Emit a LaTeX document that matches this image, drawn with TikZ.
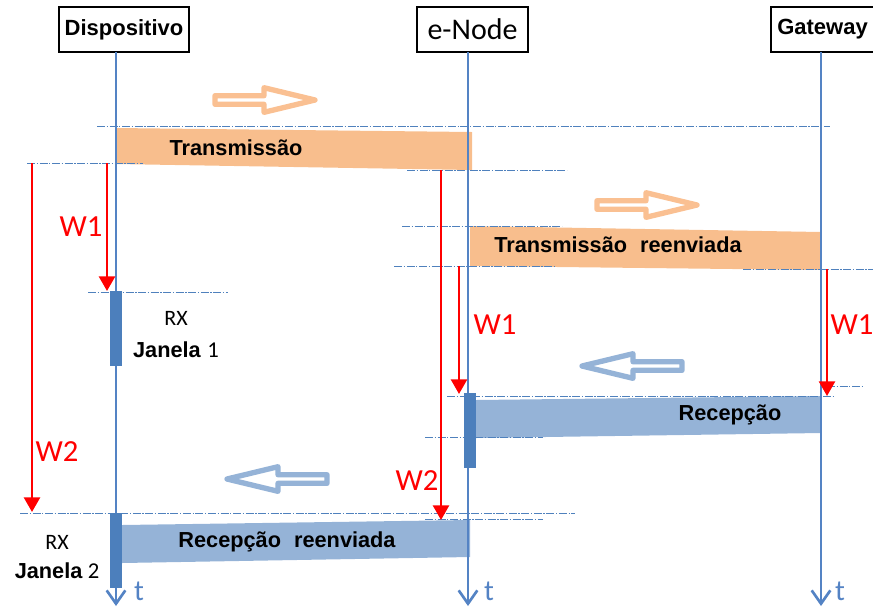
\documentclass[tikz,border=0pt]{standalone}
\usepackage{fontspec}
\setmainfont{Liberation Sans}
\newfontfamily\calfont{Carlito}
\usetikzlibrary{arrows.meta}
\definecolor{lifeblue}{RGB}{84,131,196}
\definecolor{bandorange}{RGB}{248,190,141}
\definecolor{bandblue}{RGB}{149,179,215}
\definecolor{darkblue}{RGB}{76,127,188}
\definecolor{dashblue}{RGB}{79,129,189}
\definecolor{outorange}{RGB}{250,192,146}
\definecolor{outblue}{RGB}{149,179,215}
\definecolor{redline}{RGB}{255,0,0}
\tikzset{
  header/.style={draw=black, line width=1.1pt, fill=white, minimum height=33.75pt, inner sep=0pt},
  lifeline/.style={draw=lifeblue, line width=2pt, -{Straight Barb[width=14pt,length=10pt,line width=2pt]}},
  guide/.style={draw=dashblue, line width=0.7pt, dash pattern=on 6pt off 1.2pt on 1pt off 1.2pt},
  redarr/.style={draw=redline, line width=1.9pt, -{Triangle[width=12pt,length=11pt]}},
  wlabel/.style={text=redline, font=\calfont\fontsize{23}{26}\selectfont, inner sep=0pt},
  bandtext/.style={font=\bfseries\fontsize{16.3}{19}\selectfont, inner sep=0pt},
  rxtext/.style={font=\calfont\fontsize{16.5}{19}\selectfont, inner sep=0pt},
  digit/.style={font=\calfont\fontsize{17}{19}\selectfont},
  tlabel/.style={text=lifeblue, font=\calfont\fontsize{22}{24}\selectfont, inner sep=0pt},
  window/.style={fill=darkblue},
  hollow/.pic={\path[pic actions] (0,-4.3) -- (49,-4.3) -- (49,-12.3) -- (100,0) -- (49,12.3) -- (49,4.3) -- (0,4.3) -- cycle;},
  orangearrow/.style={draw=outorange, fill=white, line width=4pt, line join=round},
  bluearrow/.style={draw=outblue, fill=white, line width=4pt, line join=round},
}
\begin{document}
\begin{tikzpicture}[x=0.75pt, y=-0.75pt]
\useasboundingbox (0,0) rectangle (873,608);

% bands
\fill[bandorange] (116,128) -- (472,132) -- (472,170) -- (116,164) -- cycle;
\fill[bandorange] (470,226) -- (821,232) -- (821,270) -- (470,266) -- cycle;
\fill[bandblue] (476,400) -- (821,396) -- (821,433) -- (476,438) -- cycle;
\fill[bandblue] (122,525) -- (470,520) -- (470,557) -- (122,563) -- cycle;

% guide lines
\coordinate (g1a) at (97,126);  \coordinate (g1b) at (830,126);
\coordinate (g2a) at (27,163);  \coordinate (g2b) at (143,163);
\coordinate (g3a) at (407,170); \coordinate (g3b) at (567,170);
\coordinate (g4a) at (402,226); \coordinate (g4b) at (562,226);
\coordinate (g5a) at (394,266); \coordinate (g5b) at (555,266);
\coordinate (g6a) at (743,269); \coordinate (g6b) at (873,269);
\coordinate (g7a) at (88,292);  \coordinate (g7b) at (228,292);
\coordinate (g8a) at (827,386); \coordinate (g8b) at (863,386);
\coordinate (g9a) at (447,396); \coordinate (g9b) at (833,396);
\coordinate (g10a) at (425,437); \coordinate (g10b) at (543,437);
\coordinate (g11a) at (20,513); \coordinate (g11b) at (575,513);
\coordinate (g12a) at (425,519); \coordinate (g12b) at (543,519);
\foreach \i in {1,...,12} {\draw[guide] (g\i a) -- (g\i b);}

% headers
\node[header, minimum width=97.5pt, font=\bfseries\fontsize{16.5}{19}\selectfont] (disp) at (124,29.5) {Dispositivo};
\node[header, minimum width=83.25pt, font=\calfont\fontsize{22.5}{26}\selectfont] (enode) at (472.5,29.5) {e-Node};
\node[header, minimum width=80.25pt, font=\bfseries\fontsize{16.5}{19}\selectfont] (gate) at (824.5,29.5) {\hspace{-3pt}Gateway};

% lifelines
\coordinate (dtop) at (116,52);  \coordinate (dend) at (116,606);
\coordinate (etop) at (468,52);  \coordinate (eend) at (468,606);
\coordinate (gtop) at (821,52);  \coordinate (gend) at (821,606);
\draw[lifeline] (dtop) -- (dend);
\draw[lifeline] (etop) -- (eend);
\draw[lifeline] (gtop) -- (gend);

% receive windows
\fill[window] (110,291) rectangle (122,366);
\fill[window] (464,393) rectangle (476,468);
\fill[window] (110,513) rectangle (122,588);

% band texts
\node[bandtext] (tx) at (236,148) {Transmissão};
\node[bandtext] (txr) at (618,245) {Transmissão\hspace{0.6em}reenviada};
\node[bandtext] (rx) at (730,415) {Recepção};
\node[bandtext] (rxr) at (287,542) {Recepção\hspace{0.6em}reenviada};

% hollow direction arrows
\pic[orangearrow] at (215,100) {hollow};
\pic[orangearrow] at (597,205) {hollow};
\pic[bluearrow, xscale=-1] at (682,366) {hollow};
\pic[bluearrow, xscale=-1] at (327,479) {hollow};

% red delay arrows
\coordinate (r1a) at (107,163); \coordinate (r1b) at (107,291);
\coordinate (r2a) at (32,163);  \coordinate (r2b) at (32,512);
\coordinate (r3a) at (441,170); \coordinate (r3b) at (441,520);
\coordinate (r4a) at (459,266); \coordinate (r4b) at (459,394);
\coordinate (r5a) at (827,269); \coordinate (r5b) at (827,396);
\draw[redarr] (r1a) -- (r1b);
\draw[redarr] (r2a) -- (r2b);
\draw[redarr] (r3a) -- (r3b);
\draw[redarr] (r4a) -- (r4b);
\draw[redarr] (r5a) -- (r5b);
\node[wlabel] (w1d) at (81,227) {W1};
\node[wlabel] (w2d) at (57,452) {W2};
\node[wlabel] (w1e) at (495,325) {W1};
\node[wlabel] (w2e) at (417,481) {W2};
\node[wlabel] (w1g) at (852,325) {W1};

% RX window labels
\node[rxtext] (rx1) at (176,318) {RX};
\node[inner sep=0pt] (jan1) at (176,350) {{\bfseries\fontsize{16.3}{19}\selectfont Janela}\hspace{0.5em}{\calfont\fontsize{17}{19}\selectfont 1}};
\node[rxtext] (rx2) at (57,542) {RX};
\node[inner sep=0pt] (jan2) at (57,571) {{\bfseries\fontsize{16.3}{19}\selectfont Janela}\hspace{0.4em}{\calfont\fontsize{17}{19}\selectfont 2}};

% time labels
\node[tlabel] (td) at (139,591) {t};
\node[tlabel] (te) at (489,591) {t};
\node[tlabel] (tg) at (840,591) {t};
\end{tikzpicture}
\end{document}
